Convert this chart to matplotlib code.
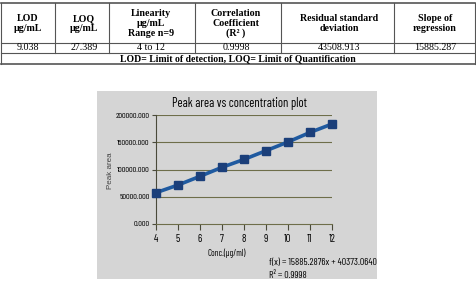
import matplotlib
matplotlib.use("Agg")
import matplotlib.pyplot as plt
from matplotlib.patches import Rectangle
from matplotlib.ticker import FuncFormatter

# ---- data ----
headers = ["LOD\nµg/mL", "LOQ\nµg/mL", "Linearity\nµg/mL\nRange n=9",
           "Correlation\nCoefficient\n(R² )", "Residual standard\ndeviation",
           "Slope of\nregression"]
values = ["9.038", "27.389", "4 to 12", "0.9998", "43508.913", "15885.287"]
footnote = "LOD= Limit of detection, LOQ= Limit of Quantification"

conc = [4, 5, 6, 7, 8, 9, 10, 11, 12]
peak_area = [57500, 71500, 87500, 104000, 118500, 134500, 150500, 168000, 183500]
y_ticks = [0, 50000, 100000, 150000, 200000]
title = "Peak area vs concentration plot"
xlabel = "Conc.(µg/ml)"
ylabel = "Peak area"
eq_line1 = "f(x) = 15885.2876x + 40373.0640"
eq_line2 = "R² = 0.9998"

W, H = 476, 287
fig = plt.figure(figsize=(W / 100, H / 100), dpi=100)
fig.patch.set_facecolor("white")

NARROW = ["Barlow Condensed", "Archivo Narrow", "DejaVu Sans"]
SERIF = ["Liberation Serif", "DejaVu Serif"]

# overlay axes in pixel coordinates
ov = fig.add_axes([0, 0, 1, 1])
ov.set_xlim(0, W)
ov.set_ylim(H, 0)
ov.axis("off")

# ---- table ----
col_edges = [1, 55, 109, 195, 281, 394, 475]
col_centers = [28, 84, 151, 236, 339, 435]
lc = "#555555"
ov.plot([1, 475], [3, 3], color=lc, lw=1.2)
ov.plot([1, 475], [42.5, 42.5], color=lc, lw=0.8)
ov.plot([1, 475], [53, 53], color=lc, lw=0.8)
ov.plot([1, 475], [64, 64], color=lc, lw=1.2)
for i, x in enumerate(col_edges):
    y1 = 64 if i in (0, len(col_edges) - 1) else 53
    ov.plot([x, x], [3, y1], color=lc, lw=0.8)
for cx, h in zip(col_centers, headers):
    ov.text(cx, 23.5, h, ha="center", va="center", fontsize=7.2, fontweight="bold",
            family=SERIF, linespacing=1.12)
for cx, v in zip(col_centers, values):
    ov.text(cx, 48, v, ha="center", va="center", fontsize=7.2, family=SERIF)
ov.text(238, 58.7, footnote, ha="center", va="center", fontsize=7,
        fontweight="bold", family=SERIF)

# ---- chart panel ----
grey = "#d5d5d5"
ov.add_patch(Rectangle((97, 91), 280, 188, facecolor=grey, edgecolor="none"))
ov.text(239, 104, title, ha="center", va="center", fontsize=9, family=NARROW)
ov.text(227, 253, xlabel, ha="center", va="center", fontsize=6.4, family=NARROW)
ov.text(111, 171, ylabel, ha="center", va="center", fontsize=5.8, rotation=90,
        color="#444444", family=["Liberation Sans", "DejaVu Sans"])
ov.text(269, 263, eq_line1, ha="left", va="center", fontsize=7.2, family=NARROW)
ov.text(269, 275, eq_line2, ha="left", va="center", fontsize=7.2, family=NARROW)

ax = fig.add_axes([156 / W, (H - 224) / H, 176 / W, 109 / H])
ax.set_facecolor(grey)
ax.plot(conc, peak_area, color="#1f5aa0", lw=2.6, marker="s", markersize=5.8,
        markerfacecolor="#1b3f7a", markeredgecolor="#1b3f7a", clip_on=False, zorder=5)
ax.set_xlim(4, 12)
ax.set_ylim(0, 200000)
ax.set_xticks(conc)
ax.set_yticks(y_ticks)
ax.yaxis.set_major_formatter(FuncFormatter(lambda v, p: f"{v:.3f}"))
for yv in y_ticks[1:]:
    ax.axhline(yv, color="#6e6e4a", lw=0.8, zorder=1)
for s in ["top", "right"]:
    ax.spines[s].set_visible(False)
ax.spines["left"].set_color("#4a4a3a")
ax.spines["bottom"].set_color("#6e6e4a")
ax.spines["left"].set_linewidth(0.8)
ax.spines["bottom"].set_linewidth(0.8)
ax.tick_params(axis="x", length=4, width=0.8, color="#4a4a3a", labelsize=7.6, pad=3)
ax.tick_params(axis="y", length=3, width=0.8, color="#4a4a3a", labelsize=6, pad=1.5)
for lab in ax.get_xticklabels() + ax.get_yticklabels():
    lab.set_family(NARROW)

fig.savefig("out.png", dpi=100)
